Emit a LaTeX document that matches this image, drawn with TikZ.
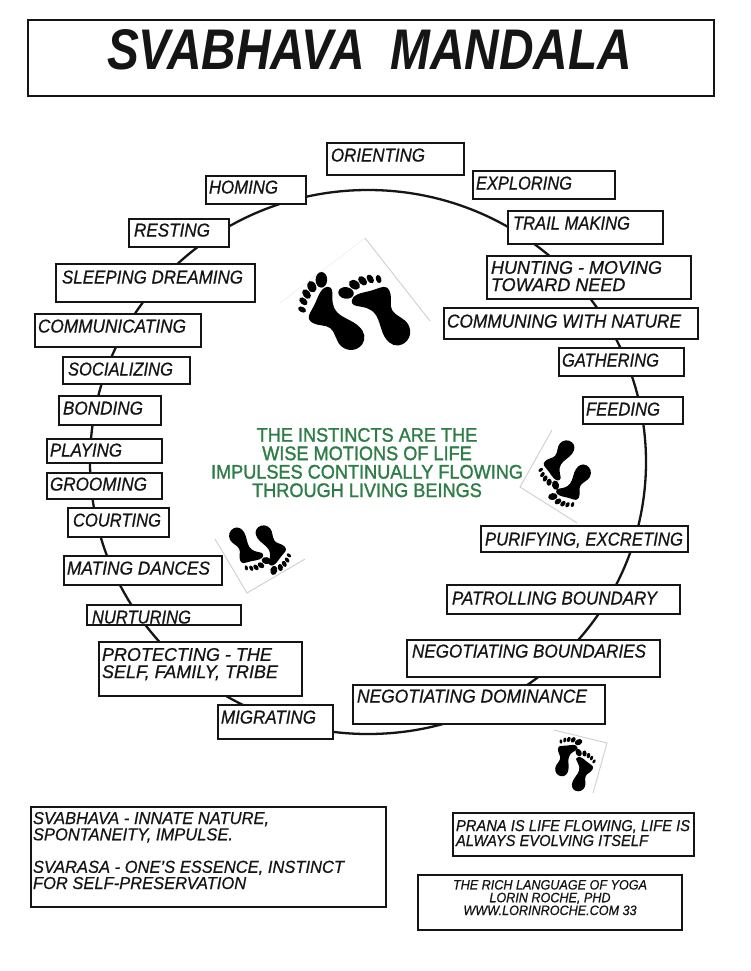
\documentclass[tikz,border=0pt]{standalone}
\usepackage{fontspec}
\usepackage{graphicx}
\setmainfont{Liberation Sans}
\newfontfamily\labelfont{Liberation Sans}[FakeBold=0.7]
\newfontfamily\mottofont{Liberation Sans}[FakeBold=1.4]
\definecolor{inkc}{HTML}{151515}
\definecolor{leafc}{HTML}{2E7D46}
\definecolor{cornerc}{HTML}{CFCFCF}
\tikzset{
  framebox/.style={draw=inkc,line width=1.6pt,fill=white,inner sep=0pt,outer sep=0pt},
  lettering/.style={inner sep=0pt,outer sep=0pt,anchor=base west,text=inkc,font=\labelfont\itshape},
  motto/.style={inner sep=0pt,outer sep=0pt,anchor=base west,text=leafc,font=\mottofont},
  footcorner/.style={draw=cornerc,line width=0.9pt},
}
% framed box from its corners
\newcommand{\framed}[5]{\node[framebox,minimum width={(#4-#2)*1pt},minimum height={(#5-#3)*1pt}] (#1) at ({(#2+#4)/2},{(#3+#5)/2}) {};}
% one line of lettering: name, left, right, mid height, cap height, text
\newcommand{\letters}[7][lettering]{\node[#1] (#2) at (#3,{#5+#6/2}) {\resizebox{\dimexpr#4pt-#3pt\relax}{#6pt}{#7}};}
% stacked lines: name, left, right, top of first line, baseline of last line, rows
\newcommand{\block}[7][lettering]{\node[#1] (#2) at (#3,#6) {\resizebox{\dimexpr#4pt-#3pt\relax}{\dimexpr#6pt-#5pt\relax}{#7}};}
\newcommand{\leftrows}[1]{\vbox{\baselineskip=9.4pt \lineskiplimit=-20pt \halign{##\hfil\cr #1\cr}}}
\newcommand{\midrows}[1]{\vbox{\baselineskip=9.4pt \lineskiplimit=-20pt \halign{\hfil##\hfil\cr #1\cr}}}
% a right foot with the heel at the origin, toes pointing up
\newcommand{\footshape}{%
  \fill[black] (-1,-12.5) .. controls (7,-13) and (13.5,-7) .. (14,1)
    .. controls (14.5,9) and (8,14) .. (8,22)
    .. controls (8,28) and (15,32) .. (16,40)
    .. controls (16.5,47) and (11,47) .. (5,48.5)
    .. controls (-3,50) and (-11,55) .. (-18,53.5)
    .. controls (-23,52) and (-24,47) .. (-19,43.5)
    .. controls (-15,40) and (-9.5,36) .. (-8.5,28)
    .. controls (-7.5,20) and (-13,10) .. (-12.5,2)
    .. controls (-12.5,-6) and (-8,-12) .. (-1,-12.5) -- cycle;
  \fill[black,rotate around={50:(-22,61)}] (-22,61) ellipse[x radius=5.8,y radius=7.8];
  \fill[black,rotate around={25:(-10.5,63.5)}] (-10.5,63.5) ellipse[x radius=4.3,y radius=6];
  \fill[black,rotate around={10:(-1.5,62.5)}] (-1.5,62.5) ellipse[x radius=3.6,y radius=5.4];
  \fill[black,rotate around={0:(6,60)}] (6,60) ellipse[x radius=3.1,y radius=4.8];
  \fill[black,rotate around={-15:(13,55.5)}] (13,55.5) ellipse[x radius=2.7,y radius=4.2];
}
\newcommand{\rightfoot}[4]{\begin{scope}[shift={(#1,#2)},x=1pt,y=1pt,rotate=#3,scale=#4]\footshape\end{scope}}
\newcommand{\leftfoot}[4]{\begin{scope}[shift={(#1,#2)},x=1pt,y=1pt,rotate=#3,scale=#4,xscale=-1]\footshape\end{scope}}
\begin{document}
\begin{tikzpicture}[x=1pt,y=-1pt]
\useasboundingbox (0,0) rectangle (751,971);
\fill[white] (0,0) rectangle (751,971);

% the ring of instincts
\coordinate (hub) at (368,462);
\draw[inkc,line width=2.3pt] (hub) ellipse[x radius=278,y radius=272];

% footprints with their paper corners
\draw[cornerc!35,line width=0.6pt] (280,303) -- (365,238);
\draw[footcorner] (365,238) -- (430,321);
\leftfoot{352}{337}{48}{1}
\rightfoot{397}{333}{32}{1}

\draw[footcorner] (215,539) -- (247,593) -- (305,559);
\rightfoot{237}{535}{209}{0.6}
\leftfoot{263}{533}{216}{0.6}

\draw[footcorner] (552,430) -- (520,487) -- (577,523);
\rightfoot{567}{448}{143}{0.6}
\leftfoot{583}{472}{149}{0.6}

\draw[footcorner] (554,730) -- (607,743) -- (593,793);
\leftfoot{562}{770}{-11}{0.5}
\rightfoot{578}{785}{-21}{0.5}

% title
\framed{titlebox}{28}{20}{714}{96}
\letters[lettering,font=\bfseries\itshape]{title}{107}{632}{50}{40}{SVABHAVA\hspace{0.25em} MANDALA}

% stations around the ring
\framed{orientbox}{327}{143}{464}{175}
\letters{orienttxt}{331}{425}{155}{13}{ORIENTING}
\framed{explorebox}{473}{171}{615}{199}
\letters{exploretxt}{476}{572}{183}{13}{EXPLORING}
\framed{homebox}{206}{176}{306}{204}
\letters{hometxt}{209}{278}{187}{13}{HOMING}
\framed{trailbox}{508}{211}{663}{244}
\letters{trailtxt}{513}{630}{223}{13}{TRAIL MAKING}
\framed{restbox}{129}{219}{229}{247}
\letters{resttxt}{134}{210}{230}{13}{RESTING}
\framed{huntbox}{487}{256}{691}{299}
\block{hunttxt}{491}{662}{261}{291}{\leftrows{HUNTING - MOVING\cr TOWARD NEED}}
\framed{sleepbox}{56}{264}{255}{302}
\letters{sleeptxt}{62}{243}{277}{13}{SLEEPING DREAMING}
\framed{communebox}{444}{308}{698}{339}
\letters{communetxt}{447}{681}{321}{13}{COMMUNING WITH NATURE}
\framed{commbox}{35}{314}{201}{347}
\letters{commtxt}{38}{186}{326}{13}{COMMUNICATING}
\framed{gatherbox}{559}{348}{684}{376}
\letters{gathertxt}{562}{659}{360}{13}{GATHERING}
\framed{socialbox}{63}{357}{190}{384}
\letters{socialtxt}{68}{173}{369}{13}{SOCIALIZING}
\framed{feedbox}{583}{397}{683}{424}
\letters{feedtxt}{586}{660}{409}{13}{FEEDING}
\framed{bondbox}{59}{396}{161}{425}
\letters{bondtxt}{63}{143}{408}{13}{BONDING}
\framed{playbox}{47}{439}{162}{463}
\letters{playtxt}{50}{122}{450}{13}{PLAYING}
\framed{groombox}{47}{473}{162}{499}
\letters{groomtxt}{50}{147}{484}{13}{GROOMING}
\framed{courtbox}{68}{508}{169}{537}
\letters{courttxt}{73}{161}{520}{13}{COURTING}
\framed{purifybox}{481}{526}{688}{552}
\letters{purifytxt}{485}{683}{539}{13}{PURIFYING, EXCRETING}
\framed{matebox}{64}{556}{222}{585}
\letters{matetxt}{67}{210}{568}{13}{MATING DANCES}
\framed{patrolbox}{447}{585}{680}{614}
\letters{patroltxt}{452}{657}{598}{13}{PATROLLING BOUNDARY}
\framed{nurturebox}{87}{605}{241}{625}
\letters{nurturetxt}{92}{191}{617}{13}{NURTURING}
\framed{protectbox}{99}{642}{302}{696}
\block{protecttxt}{102}{278}{648}{678}{\leftrows{PROTECTING - THE\cr SELF, FAMILY, TRIBE}}
\framed{boundbox}{407}{640}{660}{677}
\letters{boundtxt}{412}{646}{651}{13}{NEGOTIATING BOUNDARIES}
\framed{dominbox}{353}{685}{605}{724}
\letters{domintxt}{357}{587}{696}{13}{NEGOTIATING DOMINANCE}
\framed{migratebox}{218}{705}{333}{739}
\letters{migratetxt}{221}{316}{717}{13}{MIGRATING}

% centre motto
\block[motto]{mottotxt}{211}{523}{428}{497}{\midrows{THE INSTINCTS ARE THE\cr WISE MOTIONS OF LIFE\cr IMPULSES CONTINUALLY FLOWING\cr THROUGH LIVING BEINGS}}

% notes along the foot of the page
\framed{glossbox}{31}{807}{386}{907}
\block{glosstxt}{33}{344}{812}{889}{\leftrows{SVABHAVA - INNATE NATURE,\cr SPONTANEITY, IMPULSE.\cr\cr SVARASA - ONE’S ESSENCE, INSTINCT\cr FOR SELF-PRESERVATION}}
\framed{pranabox}{453}{813}{694}{856}
\block{pranatxt}{456}{690}{820}{846}{\leftrows{PRANA IS LIFE FLOWING, LIFE IS\cr ALWAYS EVOLVING ITSELF}}
\framed{bookbox}{418}{875}{682}{930}
\block{booktxt}{453}{647}{880}{915}{\midrows{THE RICH LANGUAGE OF YOGA\cr LORIN ROCHE, PHD\cr WWW.LORINROCHE.COM 33}}
\end{tikzpicture}
\end{document}
